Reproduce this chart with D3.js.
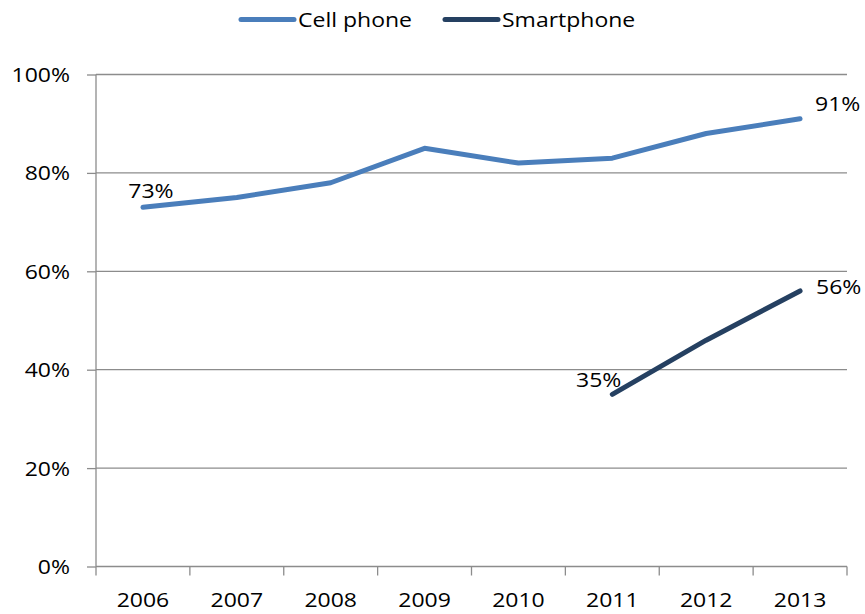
<!DOCTYPE html>
<html>
<head>
<meta charset="utf-8">
<script src="https://cdn.jsdelivr.net/npm/d3@7"></script>
<style>
  html, body { margin: 0; padding: 0; background: #fff; }
  svg { display: block; font-family: "Open Sans", "Liberation Sans", sans-serif; }
</style>
</head>
<body>
<svg id="chart" width="865" height="614"></svg>
<script>
const years = ["2006", "2007", "2008", "2009", "2010", "2011", "2012", "2013"];
const cellPhone = [73, 75, 78, 85, 82, 83, 88, 91];
const smartphone = [null, null, null, null, null, 35, 46, 56];
const yTicks = [0, 20, 40, 60, 80, 100];
const seriesNames = ["Cell phone", "Smartphone"];
const seriesColors = ["#4A7EBB", "#254061"];

(function () {
const svg = d3.select("#chart");
const mLeft = 96, mRight = 847, mTop = 74.5, mBottom = 566.5;
const FS = 20, SX = 1.15;
const gridColor = "#8c8c8c";

const x = d3.scaleBand().domain(years).range([mLeft, mRight]);
const y = d3.scaleLinear().domain([0, 100]).range([mBottom, mTop]);
const cx = d => x(d) + x.bandwidth() / 2;

function label(parent, px, py, txt, anchor) {
  const g = parent.append("g").attr("transform", `translate(${px},${py})`);
  g.append("text").attr("transform", `scale(${SX},1)`)
    .attr("text-anchor", anchor).attr("font-size", FS).attr("fill", "#000").text(txt);
  return g;
}

// gridlines
svg.append("g").selectAll("line").data(yTicks.filter(t => t > 0)).join("line")
  .attr("x1", mLeft).attr("x2", mRight)
  .attr("y1", d => y(d)).attr("y2", d => y(d))
  .attr("stroke", gridColor).attr("stroke-width", 1.3);

// y axis
const yAxis = svg.append("g").attr("transform", `translate(${mLeft},0)`)
  .call(d3.axisLeft(y).tickValues(yTicks).tickSize(9).tickPadding(0).tickFormat(d => d + "%"));
yAxis.select(".domain").attr("stroke", gridColor).attr("stroke-width", 1.3).attr("d", `M0,${mBottom}V${mTop}`);
yAxis.selectAll(".tick line").attr("stroke", gridColor).attr("stroke-width", 1.3);
yAxis.selectAll(".tick text").attr("font-size", FS).attr("fill", "#000")
  .attr("font-family", "'Open Sans', sans-serif")
  .attr("x", -26 / SX).attr("dy", "0.35em").attr("transform", `scale(${SX},1)`);

// x axis
const xAxis = svg.append("g").attr("transform", `translate(0,${mBottom})`)
  .call(d3.axisBottom(x).tickSize(0).tickPadding(0));
xAxis.select(".domain").attr("stroke", gridColor).attr("stroke-width", 1.3).attr("d", `M${mLeft},0H${mRight}`);
xAxis.selectAll(".tick text").attr("font-size", FS).attr("fill", "#000")
  .attr("font-family", "'Open Sans', sans-serif").attr("y", 40.5).attr("dy", 0)
  .attr("transform", `scale(${SX},1)`);
// category boundary ticks
const bounds = years.map(d => x(d)).concat([mRight]);
svg.append("g").selectAll("line").data(bounds).join("line")
  .attr("x1", d => d).attr("x2", d => d)
  .attr("y1", mBottom).attr("y2", mBottom + 9)
  .attr("stroke", gridColor).attr("stroke-width", 1.3);

// lines
const line = d3.line().defined(d => d.v !== null).x(d => cx(d.year)).y(d => y(d.v));
[cellPhone, smartphone].forEach((s, i) => {
  const pts = years.map((yr, j) => ({ year: yr, v: s[j] }));
  svg.append("path").datum(pts)
    .attr("d", line)
    .attr("fill", "none")
    .attr("stroke", seriesColors[i])
    .attr("stroke-width", 5)
    .attr("stroke-linecap", "round")
    .attr("stroke-linejoin", "round");
});

// data labels
const labels = [
  { s: cellPhone, i: 0, dx: 8, dy: -9, anchor: "middle" },
  { s: cellPhone, i: 7, dx: 15, dy: -8, anchor: "start" },
  { s: smartphone, i: 5, dx: 9, dy: -7, anchor: "end" },
  { s: smartphone, i: 7, dx: 16, dy: 3, anchor: "start" }
];
const lblG = svg.append("g");
labels.forEach(d => {
  label(lblG, cx(years[d.i]) + d.dx, y(d.s[d.i]) + d.dy, d.s[d.i] + "%", d.anchor);
});

// legend
const legendItems = [
  { name: seriesNames[0], color: seriesColors[0], x0: 241 },
  { name: seriesNames[1], color: seriesColors[1], x0: 445 }
];
const lg = svg.append("g");
legendItems.forEach(it => {
  lg.append("line").attr("x1", it.x0).attr("x2", it.x0 + 53)
    .attr("y1", 19.5).attr("y2", 19.5)
    .attr("stroke", it.color).attr("stroke-width", 5).attr("stroke-linecap", "round");
  label(lg, it.x0 + 57, 27, it.name, "start");
});
})();
</script>
</body>
</html>
